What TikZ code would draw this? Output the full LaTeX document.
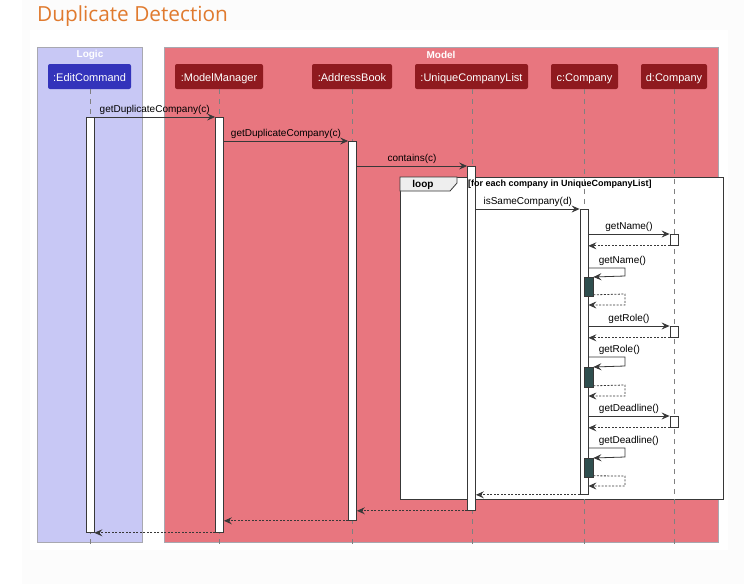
\documentclass[tikz,border=0pt]{standalone}
\usepackage{fontspec}
\setmainfont{Liberation Sans}
\newfontfamily\titlefont{Open Sans}
\usetikzlibrary{arrows.meta,calc}

\definecolor{pagebg}{HTML}{FCFCFC}
\definecolor{titleorange}{HTML}{E07A2E}
\definecolor{logicfill}{HTML}{C8C8F5}
\definecolor{modelfill}{HTML}{E8767F}
\definecolor{grpborder}{HTML}{A8A8B0}
\definecolor{partblue}{HTML}{3333BB}
\definecolor{partred}{HTML}{8F1A1F}
\definecolor{linecol}{HTML}{383838}
\definecolor{nestfill}{HTML}{2F4F4F}
\definecolor{tabfill}{HTML}{EEEEEE}
\definecolor{lifecol}{HTML}{808080}

\tikzset{
  grp/.style={draw=grpborder, line width=0.8pt},
  grplbl/.style={font=\bfseries\fontsize{10}{12}\selectfont, text=white, inner sep=0pt},
  part/.style={rectangle, rounded corners=2pt, minimum height=25pt, inner sep=0pt,
    text=white, font=\fontsize{11}{13}\selectfont, text height=10pt, text depth=1pt},
  lifeline/.style={draw=lifecol, line width=0.6pt, dash pattern=on 5pt off 5pt},
  actbar/.style={rectangle, draw=linecol, fill=white, line width=0.8pt,
    minimum width=8pt, inner sep=0pt, anchor=north},
  nestbar/.style={actbar, fill=nestfill, minimum width=9pt},
  msg/.style={draw=linecol, line width=0.8pt, -{Stealth[length=8pt,width=7pt,inset=3pt]}},
  ret/.style={msg, dash pattern=on 2pt off 1.5pt},
  lbl/.style={font=\fontsize{10}{12}\selectfont, text=black, inner sep=1pt},
  selflbl/.style={lbl, anchor=south west, xshift=9pt, yshift=1pt},
  framebox/.style={draw=linecol, line width=1.2pt, fill=white},
}

\begin{document}
\begin{tikzpicture}[x=1pt,y=-1pt]
\useasboundingbox (0,0) rectangle (744,584);
\fill[pagebg] (22,0) rectangle (744,584);
\fill[white] (30,30) rectangle (728,550);

% title
\node[anchor=base west, inner sep=0pt, text=titleorange, font=\titlefont\fontsize{20.8}{24}\selectfont] (title) at (37,21) {Duplicate Detection};

% groups
\draw[grp, fill=logicfill] (37,47) rectangle (142,542);
\node[grplbl] (logiclbl) at (90,55) {Logic};
\draw[grp, fill=modelfill] (164,47) rectangle (718,542);
\node[grplbl] (modellbl) at (441,55) {Model};

% participants
\node[part, fill=partblue, minimum width=83pt] (ec) at (89.5,76.5) {:EditCommand};
\node[part, fill=partred, minimum width=88pt] (mm) at (219,76.5) {:ModelManager};
\node[part, fill=partred, minimum width=80pt] (ab) at (352,76.5) {:AddressBook};
\node[part, fill=partred, minimum width=113pt] (ucl) at (471.5,76.5) {:UniqueCompanyList};
\node[part, fill=partred, minimum width=67pt] (cc) at (584.5,76.5) {c:Company};
\node[part, fill=partred, minimum width=66pt] (dc) at (674,76.5) {d:Company};

% loop frame
\node[framebox, anchor=north west, minimum width=323pt, minimum height=322pt, inner sep=0pt] (loop) at (400,177) {};
\filldraw[fill=tabfill, draw=linecol, line width=0.8pt] (400,177) -- (457,177) -- (457,183) -- (450,191) -- (400,191) -- cycle;
\node[font=\bfseries\fontsize{10}{12}\selectfont, inner sep=0pt] (looplbl) at (423,184.5) {loop};

% lifelines
\foreach \p/\x in {ec/90,mm/219,ab/352,ucl/472,cc/584,dc/674}{
  \coordinate (\p end) at (\x,546);
  \draw[lifeline] (\p.south -| \p end) -- (\p end);
}

% activation bars
\node[actbar, minimum height=415pt] (aec) at (90,117) {};
\node[actbar, minimum height=415pt] (amm) at (219.5,117) {};
\node[actbar, minimum height=379pt] (aab) at (352.5,141) {};
\node[actbar, minimum height=344pt] (aucl) at (471.5,166) {};
\node[actbar, minimum height=285pt] (acc) at (584,209) {};
\node[actbar, minimum height=11pt] (ad1) at (674,234) {};
\node[actbar, minimum height=11pt] (ad2) at (674,326) {};
\node[actbar, minimum height=11pt] (ad3) at (674,416) {};
\node[nestbar, minimum height=19pt] (n1) at (588.5,277) {};
\node[nestbar, minimum height=20pt] (n2) at (588.5,367) {};
\node[nestbar, minimum height=19pt] (n3) at (588.5,458) {};

% loop guard (over the bar)
\node[anchor=west, font=\bfseries\fontsize{9}{11}\selectfont, inner sep=0pt] (guard) at (468,184.5) {[for each company in UniqueCompanyList]};

% calls
\draw[msg] (aec.north east) -- node[lbl, above, yshift=1pt] {getDuplicateCompany(c)} (amm.north west);
\draw[msg] (amm.east |- aab.north) -- node[lbl, above, yshift=1pt] {getDuplicateCompany(c)} (aab.north west);
\draw[msg] (aab.east |- aucl.north) -- node[lbl, above, yshift=1pt] {contains(c)} (aucl.north west);
\draw[msg] (aucl.east |- acc.north) -- node[lbl, above, yshift=1pt] {isSameCompany(d)} (acc.north west);

% getName()
\draw[msg] (acc.east |- ad1.north) -- node[lbl, above, yshift=1pt] {getName()} (ad1.north west);
\draw[ret] (ad1.south west) -- (acc.east |- ad1.south);
\draw[msg] (acc.east |- 0,268) node[selflbl] {getName()} -- (625,268) -- (625,276) -- (n1.north east);
\draw[ret] ($(n1.south east)+(0,-2)$) -- (625,294) -- (625,305) -- (acc.east |- 0,305);

% getRole()
\draw[msg] (acc.east |- ad2.north) -- node[lbl, above, yshift=1pt] {getRole()} (ad2.north west);
\draw[ret] (ad2.south west) -- (acc.east |- ad2.south);
\draw[msg] (acc.east |- 0,357) node[selflbl] {getRole()} -- (625,357) -- (625,366) -- (n2.north east);
\draw[ret] ($(n2.south east)+(0,-2)$) -- (625,385) -- (625,396) -- (acc.east |- 0,396);

% getDeadline()
\draw[msg] (acc.east |- ad3.north) -- node[lbl, above, yshift=1pt] {getDeadline()} (ad3.north west);
\draw[ret] (ad3.south west) -- (acc.east |- ad3.south);
\draw[msg] (acc.east |- 0,448) node[selflbl] {getDeadline()} -- (625,448) -- (625,457) -- (n3.north east);
\draw[ret] ($(n3.south east)+(0,-2)$) -- (625,476) -- (625,486) -- (acc.east |- 0,486);

% returns
\draw[ret] (acc.south west) -- (aucl.east |- acc.south);
\draw[ret] (aucl.south west) -- (aab.east |- aucl.south);
\draw[ret] (aab.south west) -- (amm.east |- aab.south);
\draw[ret] (amm.south west) -- (aec.east |- amm.south);
\end{tikzpicture}
\end{document}
